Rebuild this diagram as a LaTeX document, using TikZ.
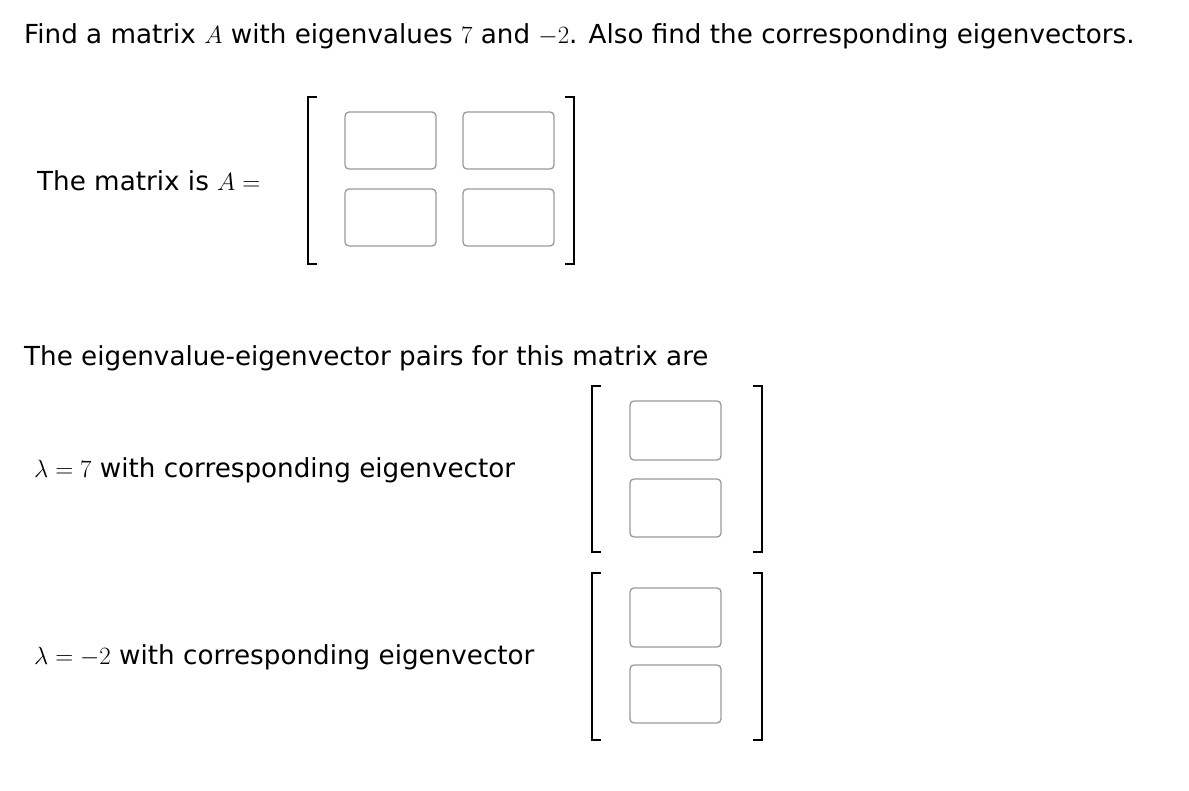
\documentclass[tikz,border=0pt]{standalone}
\usepackage{fontspec}
\setmainfont{DejaVu Sans}
\begin{document}
\begin{tikzpicture}[x=1pt,y=-1pt,
 txt/.style={anchor=west,inner sep=0pt,font=\fontsize{26.2}{30}\selectfont},
 ibox/.style={draw=black!40,line width=1.3pt,rounded corners=4pt},
 brk/.style={line width=1.1pt}]
\useasboundingbox (0,0) rectangle (1189,791);
\node[txt] (title) at (24,36) {Find a matrix $A$ with eigenvalues $7$ and $-2$. Also find the corresponding eigenvectors.};
\node[txt] (mlab) at (37,181) {The matrix is $A=$};
\draw[brk] (317,97) -- (308,97) -- (308,264) -- (317,264);
\draw[brk] (565,97) -- (574,97) -- (574,264) -- (565,264);
\draw[ibox] (345,112) rectangle (436,169);
\draw[ibox] (463,112) rectangle (554,169);
\draw[ibox] (345,189) rectangle (436,246);
\draw[ibox] (463,189) rectangle (554,246);
\node[txt] (pairs) at (24,358) {The eigenvalue-eigenvector pairs for this matrix are};
\node[txt] (l1) at (34,470) {$\lambda=7$ with corresponding eigenvector};
\draw[brk] (601,386) -- (592,386) -- (592,552) -- (601,552);
\draw[brk] (753,386) -- (762,386) -- (762,552) -- (753,552);
\draw[ibox] (630,401) rectangle (721,460);
\draw[ibox] (630,479) rectangle (721,537);
\node[txt] (l2) at (34,657) {$\lambda=-2$ with corresponding eigenvector};
\draw[brk] (601,573) -- (592,573) -- (592,740) -- (601,740);
\draw[brk] (753,573) -- (762,573) -- (762,740) -- (753,740);
\draw[ibox] (630,588) rectangle (721,647);
\draw[ibox] (630,665) rectangle (721,723);
\end{tikzpicture}
\end{document}
